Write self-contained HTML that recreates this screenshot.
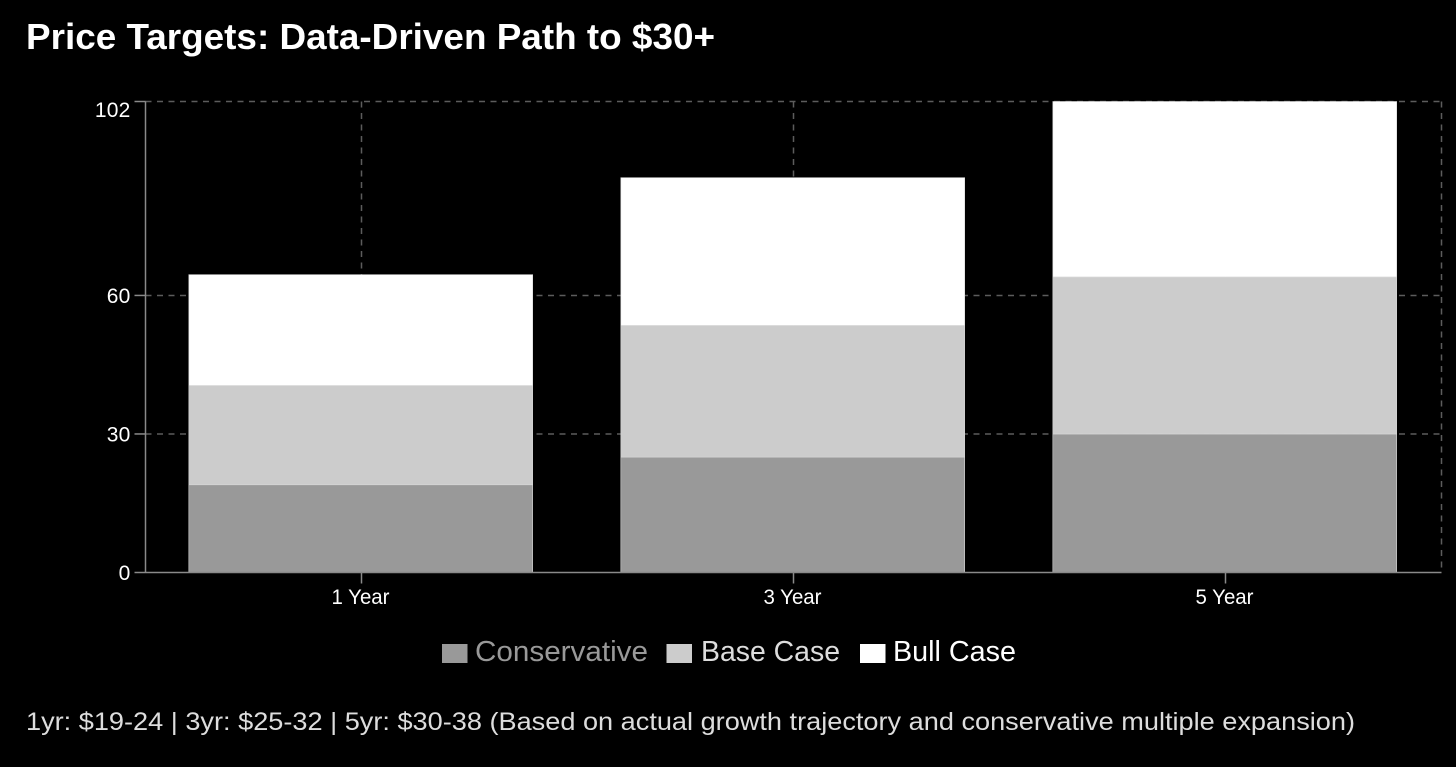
<!DOCTYPE html>
<html lang="en">
<head>
<meta charset="utf-8">
<title>Price Targets: Data-Driven Path to $30+</title>
<style>
html,body{margin:0;padding:0;background:#000;width:1456px;height:767px;overflow:hidden}
svg{display:block;font-family:"Liberation Sans",sans-serif}
</style>
</head>
<body>
<svg id="chart" width="1456" height="767" viewBox="0 0 1456 767" xmlns="http://www.w3.org/2000/svg">
  <rect x="0" y="0" width="1456" height="767" fill="#000"/>
  <text x="26" y="49" font-size="36" font-weight="700" fill="#fff" textLength="689" lengthAdjust="spacingAndGlyphs">Price Targets: Data-Driven Path to $30+</text>
  <g id="grid"></g>
  <g id="bars"></g>
  <g id="axes"></g>
  <g>
    <g>
      <rect x="442" y="644" width="25.5" height="19" fill="#999"/>
      <text x="475" y="661" font-size="29" fill="#999" textLength="173" lengthAdjust="spacingAndGlyphs">Conservative</text>
    </g>
    <g>
      <rect x="666.5" y="644" width="25.5" height="19" fill="#ccc"/>
      <text x="701" y="661" font-size="29" fill="#ddd" textLength="139" lengthAdjust="spacingAndGlyphs">Base Case</text>
    </g>
    <g>
      <rect x="860" y="644" width="25.5" height="19" fill="#fff"/>
      <text x="893" y="661" font-size="29" fill="#fff" textLength="123" lengthAdjust="spacingAndGlyphs">Bull Case</text>
    </g>
  </g>
  <text x="26" y="730" font-size="25" fill="#ddd" textLength="1329" lengthAdjust="spacingAndGlyphs">1yr: $19-24 | 3yr: $25-32 | 5yr: $30-38 (Based on actual growth trajectory and conservative multiple expansion)</text>
</svg>
<script>
const categories = ["1 Year", "3 Year", "5 Year"];
const conservative = [19, 25, 30];
const baseCase = [21.5, 28.5, 34];
const bullCase = [24, 32, 38];
const yTicks = [0, 30, 60, 102];
const yTickLabels = ["0", "30", "60", "102"];
const yMax = 102;

const NS = "http://www.w3.org/2000/svg";
const plotLeft = 145.5, plotRight = 1441.5, plotTop = 101.5, plotBottom = 572.5;
const bandWidth = (plotRight - plotLeft) / categories.length;
const barWidth = bandWidth * 0.796;
const barShift = -0.75;
function yScale(v) { return plotBottom - (v / yMax) * (plotBottom - plotTop); }
function xCenter(i) { return plotLeft + bandWidth * (i + 0.5); }
function mk(tag, attrs, parent) {
  const el = document.createElementNS(NS, tag);
  for (const k in attrs) el.setAttribute(k, attrs[k]);
  parent.appendChild(el);
  return el;
}
const gridG = document.getElementById("grid");
const barsG = document.getElementById("bars");
const axesG = document.getElementById("axes");
const gridStyle = { stroke: "#5c5c5c", "stroke-width": 1.5, "stroke-dasharray": "6 5.5", fill: "none" };

yTicks.forEach(function (t) {
  if (t === 0) return;
  const line = mk("line", Object.assign({ x1: plotLeft, x2: plotRight, y1: yScale(t), y2: yScale(t) }, gridStyle), gridG);
  
  
});
categories.forEach(function (c, i) {
  const line = mk("line", Object.assign({ x1: xCenter(i), x2: xCenter(i), y1: plotTop, y2: plotBottom }, gridStyle), gridG);
  
  
});
const edge = mk("line", Object.assign({ x1: plotRight, x2: plotRight, y1: plotTop, y2: plotBottom }, gridStyle), gridG);



const barEdge = { stroke: "#d8d8d8", "stroke-width": 0.6 };
categories.forEach(function (c, i) {
  const x = xCenter(i) - barWidth / 2 + barShift;
  const y0 = conservative[i];
  const y1 = y0 + baseCase[i];
  const y2 = y1 + bullCase[i];
  const r1 = mk("rect", Object.assign({ x: x, y: yScale(y0), width: barWidth, height: yScale(0) - yScale(y0), fill: "#999" }, barEdge), barsG);
  
  
  const r2 = mk("rect", Object.assign({ x: x, y: yScale(y1), width: barWidth, height: yScale(y0) - yScale(y1), fill: "#ccc" }, barEdge), barsG);
  
  
  const r3 = mk("rect", Object.assign({ x: x, y: yScale(y2), width: barWidth, height: yScale(y1) - yScale(y2), fill: "#fff" }, barEdge), barsG);
  
  
});

const axisStyle = { stroke: "#8a8a8a", "stroke-width": 1.5 };
const yAxis = mk("line", Object.assign({ x1: plotLeft, x2: plotLeft, y1: plotTop, y2: plotBottom }, axisStyle), axesG);


const xAxis = mk("line", Object.assign({ x1: plotLeft, x2: plotRight, y1: plotBottom, y2: plotBottom }, axisStyle), axesG);



yTicks.forEach(function (t, i) {
  const y = yScale(t);
  const tick = mk("line", Object.assign({ x1: plotLeft - 11, x2: plotLeft, y1: y, y2: y }, axisStyle), axesG);
  
  
  const baseline = Math.min(Math.max(y + 7.5, 117), 581);
  const label = mk("text", { x: 130.5, y: baseline, "text-anchor": "end", "font-size": 21, "letter-spacing": 0.2, fill: "#fff" }, axesG);
  
  
  label.textContent = yTickLabels[i];
});
categories.forEach(function (c, i) {
  const x = xCenter(i) - 1;
  const tick = mk("line", Object.assign({ x1: x + 1, x2: x + 1, y1: plotBottom, y2: plotBottom + 11 }, axisStyle), axesG);
  
  
  const label = mk("text", { x: x, y: 604, "text-anchor": "middle", "font-size": 21, textLength: 58, lengthAdjust: "spacingAndGlyphs", fill: "#fff" }, axesG);
  
  
  label.textContent = c;
});
</script>
</body>
</html>
